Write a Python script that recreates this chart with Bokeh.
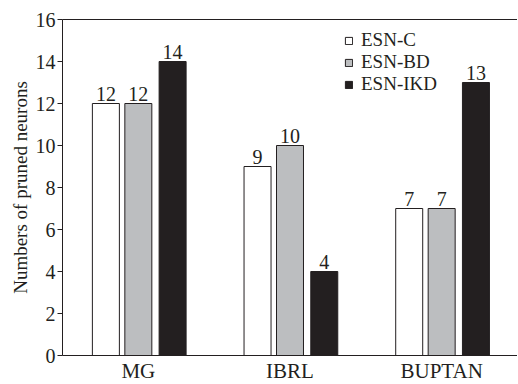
from bokeh.plotting import figure
from bokeh.models import (ColumnDataSource, FactorRange, Range1d, LinearAxis,
                          FixedTicker, Legend, LegendItem)
from bokeh.transform import dodge
from bokeh.core.properties import value
from bokeh.embed import file_html
from bokeh.resources import INLINE

categories = ["MG", "IBRL", "BUPTAN"]
esn_c = [12, 9, 7]
esn_bd = [12, 10, 7]
esn_ikd = [14, 4, 13]
series_names = ["ESN-C", "ESN-BD", "ESN-IKD"]
y_ticks = [0, 2, 4, 6, 8, 10, 12, 14, 16]

FONT = "Liberation Serif"
INK = "#231F20"
fills = ["#FFFFFF", "#BCBEC0", "#231F20"]
offsets = [-0.214, 0.0, 0.226]
bar_w = 0.178

src = ColumnDataSource(dict(
    cat=categories,
    c=esn_c, bd=esn_bd, ikd=esn_ikd,
    c_t=[str(v) for v in esn_c],
    bd_t=[str(v) for v in esn_bd],
    ikd_t=[str(v) for v in esn_ikd],
))

p = figure(x_range=FactorRange(factors=categories, range_padding=0),
           y_range=Range1d(0, 16),
           frame_width=455, frame_height=336,
           output_backend="svg", toolbar_location=None,
           min_border_left=62, min_border_right=0, min_border_top=19,
           min_border_bottom=28)
p.outline_line_color = None
p.grid.visible = False
p.background_fill_color = "white"

renderers = []
for col, fc, off in zip(["c", "bd", "ikd"], fills, offsets):
    r = p.vbar(x=dodge("cat", off, range=p.x_range), top=col, width=bar_w,
               source=src, fill_color=fc, line_color=INK, line_width=1)
    renderers.append(r)
    p.text(x=dodge("cat", off, range=p.x_range), y=col, text=col + "_t",
           source=src, text_align="center", text_baseline="bottom",
           y_offset=-3, text_font=value(FONT), text_font_size="20px",
           text_color=INK)

# y axis
ya = p.yaxis[0]
ya.ticker = FixedTicker(ticks=y_ticks)
ya.axis_label = "Numbers of pruned neurons"
ya.axis_label_text_font = FONT
ya.axis_label_text_font_style = "normal"
ya.axis_label_text_font_size = "19px"
ya.axis_label_text_color = INK
ya.axis_label_standoff = 2
ya.major_label_text_font = FONT
ya.major_label_text_font_size = "20px"
ya.major_label_text_color = INK
ya.major_label_standoff = 2
ya.major_tick_out = 5
ya.major_tick_in = 0
ya.minor_tick_line_color = None
ya.axis_line_color = INK
ya.major_tick_line_color = INK

# x axis
xa = p.xaxis[0]
xa.major_label_text_font = FONT
xa.major_label_text_font_size = "21px"
xa.major_label_text_color = INK
xa.major_tick_line_color = None
xa.major_tick_out = 0
xa.major_tick_in = 0
xa.minor_tick_line_color = None
xa.axis_line_color = INK
xa.major_label_standoff = 3

# top frame line
top = LinearAxis(ticker=FixedTicker(ticks=[]), major_tick_line_color=None,
                 major_tick_out=0, major_tick_in=0,
                 minor_tick_line_color=None, major_label_text_font_size="0px",
                 axis_line_color=INK)
p.add_layout(top, "above")

legend = Legend(items=[LegendItem(label=n, renderers=[r])
                       for n, r in zip(series_names, renderers)],
                location=(282, 260), orientation="vertical",
                glyph_width=9, glyph_height=9, label_height=19,
                label_standoff=8, spacing=-3, padding=0, margin=0,
                label_text_font=FONT, label_text_font_size="19px",
                label_text_color=INK, border_line_color=None,
                background_fill_alpha=0)
p.add_layout(legend)

open("out.html", "w").write(file_html(p, INLINE))
